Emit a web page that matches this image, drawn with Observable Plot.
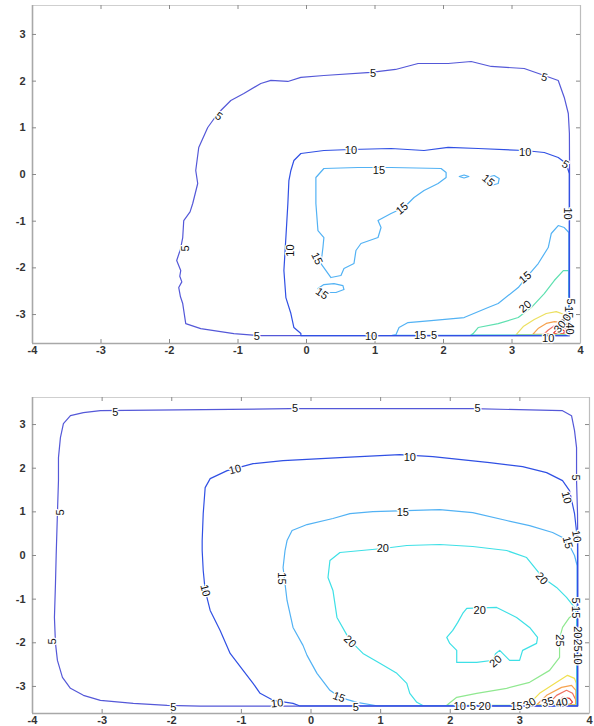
<!DOCTYPE html>
<html><head><meta charset="utf-8">
<script src="https://cdn.jsdelivr.net/npm/d3@7"></script>
<script src="https://cdn.jsdelivr.net/npm/@observablehq/plot@0.6"></script>
<style>
body{margin:0;background:#fff;width:594px;height:726px;overflow:hidden;position:relative;}
#top,#bot{position:absolute;left:0;}
#top{top:0}
#bot{top:360px}
svg{overflow:visible}
</style></head><body>
<div id="top"></div><div id="bot"></div>
<script>
// ---------- axes ----------
const X_DOMAIN = [-4, 4];
const Y_DOMAIN = [-3.62, 3.62];
const X_LABELS = [-4, -3, -2, -1, 0, 1, 2, 3, 4];
const X_TICKS = [-3, -2, -1, 0, 1, 2, 3];
const Y_LABELS = [-3, -2, -1, 0, 1, 2, 3];

// ---------- top panel contours (x, y) ----------
const TOP_5 = [[-1.617,0.086],[-1.573,0.579],[-1.442,1.007],[-1.295,1.307],[-1.105,1.586],[-0.915,1.736],[-0.667,1.950],[-0.520,2.016],[-0.272,1.993],[-0.082,2.079],[0.254,2.121],[0.942,2.186],[1.300,2.250],[1.629,2.378],[2.067,2.378],[2.404,2.421],[2.696,2.314],[3.178,2.271],[3.471,2.121],[3.675,2.014],[3.763,1.650],[3.822,1.307],[3.838,0.879],[3.840,0.150],[3.840,-3.452],[-0.082,-3.452],[-0.711,-3.450],[-1.061,-3.407],[-1.544,-3.300],[-1.763,-3.193],[-1.807,-2.764],[-1.840,-2.620],[-1.865,-2.421],[-1.820,-2.300],[-1.850,-2.180],[-1.836,-2.057],[-1.895,-1.843],[-1.840,-1.600],[-1.807,-1.350],[-1.792,-0.986],[-1.700,-0.800],[-1.661,-0.621],[-1.588,-0.193],[-1.617,0.086]];
const TOP_10 = [[-0.228,0.086],[-0.184,0.300],[-0.082,0.450],[0.254,0.514],[0.649,0.536],[1.234,0.557],[1.716,0.514],[2.067,0.579],[2.506,0.557],[3.178,0.514],[3.471,0.471],[3.675,0.364],[3.792,0.236],[3.836,0.021],[3.836,-3.450],[-0.082,-3.450],[-0.082,-3.407],[-0.184,-3.278],[-0.228,-2.978],[-0.301,-2.636],[-0.330,-2.057],[-0.301,-1.350],[-0.272,-0.621],[-0.257,-0.129],[-0.228,0.086]];
const TOP_15A = [[0.137,-0.064],[0.254,0.129],[0.751,0.150],[1.234,0.150],[1.965,0.129],[2.038,0.043],[2.038,-0.064],[1.921,-0.193],[1.716,-0.343],[1.570,-0.493],[1.424,-0.707],[1.234,-0.836],[1.044,-0.986],[1.088,-1.136],[1.044,-1.350],[0.795,-1.478],[0.722,-1.628],[0.693,-1.907],[0.547,-2.014],[0.503,-2.164],[0.357,-2.207],[0.284,-2.057],[0.211,-1.907],[0.240,-1.564],[0.254,-1.350],[0.167,-1.200],[0.137,-0.621],[0.137,-0.064]];
const TOP_15B = [[0.167,-2.443],[0.254,-2.357],[0.401,-2.336],[0.532,-2.379],[0.547,-2.464],[0.430,-2.528],[0.240,-2.528],[0.167,-2.443]];
const TOP_15C = [[2.23,-0.043],[2.30,-0.010],[2.37,-0.043],[2.30,-0.075],[2.23,-0.043]];
const TOP_15D = [[2.594,-0.171],[2.623,-0.064],[2.740,-0.021],[2.813,-0.086],[2.798,-0.193],[2.696,-0.236],[2.594,-0.171]];
const TOP_15E = [[1.250,-3.445],[1.307,-3.428],[1.351,-3.278],[1.482,-3.171],[1.819,-3.128],[2.301,-3.064],[2.652,-2.850],[2.798,-2.764],[3.091,-2.421],[3.208,-2.207],[3.383,-1.907],[3.529,-1.564],[3.573,-1.264],[3.675,-1.093],[3.763,-1.136],[3.830,-1.243],[3.830,-3.445],[1.250,-3.445]];
const TOP_20 = [[2.400,-3.440],[2.433,-3.407],[2.506,-3.278],[2.798,-3.193],[3.091,-3.064],[3.281,-2.850],[3.471,-2.550],[3.617,-2.271],[3.749,-2.057],[3.826,-2.057],[3.826,-3.440],[2.400,-3.440]];
const TOP_25 = [[3.061,-3.432],[3.164,-3.257],[3.325,-3.107],[3.500,-2.978],[3.646,-2.936],[3.763,-3.000],[3.820,-3.128],[3.820,-3.432],[3.061,-3.432]];
const TOP_30 = [[3.300,-3.428],[3.380,-3.300],[3.500,-3.190],[3.620,-3.150],[3.730,-3.170],[3.800,-3.260],[3.815,-3.350],[3.815,-3.425],[3.300,-3.425]];
const TOP_35 = [[3.460,-3.428],[3.530,-3.330],[3.620,-3.240],[3.700,-3.220],[3.770,-3.280],[3.800,-3.360],[3.810,-3.420],[3.460,-3.420]];
const TOP_40 = [[3.600,-3.410],[3.650,-3.330],[3.720,-3.310],[3.770,-3.360],[3.750,-3.410],[3.600,-3.410]];

// ---------- bottom panel contours ----------
const BOT_5 = [[-3.660,0.000],[-3.642,0.961],[-3.627,1.716],[-3.627,2.243],[-3.599,2.700],[-3.556,3.021],[-3.455,3.204],[-3.269,3.272],[-3.025,3.318],[-0.301,3.364],[2.323,3.364],[3.613,3.318],[3.742,3.204],[3.785,2.860],[3.814,2.471],[3.814,1.716],[3.828,0.961],[3.832,0.000],[3.832,-3.450],[-1.591,-3.450],[-2.065,-3.432],[-2.552,-3.387],[-3.025,-3.318],[-3.269,-3.204],[-3.455,-3.043],[-3.570,-2.792],[-3.642,-2.403],[-3.670,-2.014],[-3.685,-1.419],[-3.670,-0.641],[-3.660,0.000]];
const BOT_10 = [[-1.563,0.114],[-1.563,0.343],[-1.548,0.961],[-1.520,1.556],[-1.448,1.762],[-1.204,1.945],[-0.832,2.105],[-0.401,2.174],[0.416,2.243],[1.276,2.311],[1.749,2.265],[2.566,2.128],[3.039,2.037],[3.384,1.899],[3.613,1.716],[3.713,1.487],[3.785,0.961],[3.828,0.343],[3.828,-3.447],[-0.158,-3.447],[-0.258,-3.387],[-0.545,-3.318],[-0.731,-3.158],[-0.832,-2.929],[-0.975,-2.632],[-1.161,-2.243],[-1.305,-1.716],[-1.448,-1.259],[-1.520,-0.801],[-1.548,-0.343],[-1.563,0.114]];
const BOT_15 = [[-0.373,0.114],[-0.344,0.343],[-0.272,0.572],[-0.057,0.709],[0.315,0.847],[0.559,0.961],[0.889,1.007],[1.849,1.053],[2.323,0.984],[2.810,0.801],[3.140,0.686],[3.470,0.526],[3.613,0.412],[3.713,0.229],[3.785,0.000],[3.822,-0.229],[3.822,-3.442],[0.946,-3.442],[0.659,-3.364],[0.416,-3.249],[0.272,-3.089],[0.086,-2.700],[-0.057,-2.288],[-0.115,-2.059],[-0.258,-1.648],[-0.344,-1.030],[-0.401,-0.275],[-0.373,0.114]];
const BOT_20A = [[1.606,-3.437],[1.520,-3.364],[1.419,-3.158],[1.376,-2.929],[1.233,-2.700],[0.989,-2.471],[0.746,-2.243],[0.559,-1.945],[0.373,-1.419],[0.315,-0.801],[0.244,-0.503],[0.272,-0.114],[0.416,0.069],[1.032,0.160],[1.376,0.229],[1.849,0.252],[2.323,0.206],[2.810,0.114],[3.097,-0.046],[3.326,-0.503],[3.527,-0.732],[3.670,-0.961],[3.785,-1.190],[3.818,-1.419],[3.818,-3.437],[1.606,-3.437]];
const BOT_20B = [[2.179,-1.327],[2.237,-1.213],[2.667,-1.190],[2.953,-1.419],[3.140,-1.648],[3.254,-1.876],[3.240,-2.014],[3.039,-2.174],[2.996,-2.403],[2.853,-2.403],[2.710,-2.174],[2.650,-2.250],[2.620,-2.400],[2.380,-2.449],[2.093,-2.449],[2.093,-2.174],[1.993,-2.014],[1.950,-1.876],[2.036,-1.716],[2.108,-1.533],[2.179,-1.327]];
const BOT_25 = [[1.950,-3.432],[2.093,-3.249],[2.380,-3.158],[2.810,-3.043],[3.140,-2.906],[3.427,-2.632],[3.570,-2.334],[3.570,-1.899],[3.613,-1.648],[3.713,-1.419],[3.815,-1.304],[3.815,-3.432],[1.950,-3.432]];
const BOT_30 = [[3.039,-3.430],[3.140,-3.387],[3.283,-3.158],[3.527,-2.906],[3.685,-2.746],[3.785,-2.815],[3.810,-2.929],[3.810,-3.430],[3.039,-3.430]];
const BOT_35 = [[3.240,-3.425],[3.384,-3.204],[3.599,-3.021],[3.742,-2.975],[3.805,-3.089],[3.805,-3.425],[3.240,-3.425]];
const BOT_40 = [[3.398,-3.420],[3.527,-3.204],[3.670,-3.089],[3.756,-3.158],[3.800,-3.300],[3.800,-3.420],[3.398,-3.420]];
const BOT_45 = [[3.541,-3.410],[3.613,-3.249],[3.713,-3.272],[3.756,-3.360],[3.720,-3.410],[3.541,-3.410]];

// ---------- colours per level ----------
const TOP_COLORS = {c5:"#5458d8", c10:"#3050e4", c15:"#52b2f4", c20:"#5ee0b0", c25:"#ece060", c30:"#f6a24e", c35:"#f07060", c40:"#e03434"};
const BOT_COLORS = {c5:"#5458d8", c10:"#3050e4", c15:"#52b2f4", c20:"#3ee0e6", c25:"#90e890", c30:"#f0e050", c35:"#f6a24e", c40:"#f07060", c45:"#e03434"};

// ---------- contour labels: [text, x, y, rotate] ----------
const TOP_LABELS = [
 ["5",0.971,2.164,0],["5",3.471,2.078,15],["5",-1.281,1.243,35],["5",-1.763,-1.586,-90],["5",-0.725,-3.471,0],["5",3.778,0.214,30],
 ["10",0.649,0.514,0],["10",3.193,0.471,0],["10",-0.228,-1.628,-90],["10",0.942,-3.471,0],["10",3.807,-0.836,90],["10",3.529,-3.514,0],
 ["15",1.658,-3.45,0],["5",1.863,-3.45,0],
 ["15",1.058,0.086,0],["15",2.652,-0.129,40],["15",1.395,-0.729,-40],["15",0.152,-1.800,65],["15",0.225,-2.55,35],["15",3.193,-2.207,-40],
 ["20",3.193,-2.829,-40],
 ["5",3.85,-2.72,90],["15",3.82,-2.95,90],["20",3.78,-3.12,-60],["30",3.70,-3.26,-50],["40",3.84,-3.30,90]
];
const BOT_LABELS = [
 ["5",-2.810,3.272,0],["5",-0.229,3.364,0],["5",2.394,3.364,0],["5",-3.599,0.984,-90],["5",-3.713,-1.968,-90],["5",-1.978,-3.478,0],["5",0.645,-3.478,0],["5",3.799,1.785,90],["5",3.80,-1.03,90],
 ["10",-1.090,1.968,-15],["10",1.419,2.243,0],["10",3.670,1.327,75],["10",3.814,0.435,80],["10",-1.520,-0.801,75],["10",-0.487,-3.387,-5],["10",3.83,-2.36,90],
 ["15",1.319,0.984,0],["15",3.685,0.297,75],["15",-0.43,-0.526,90],["15",0.401,-3.249,20],["15",3.80,-1.30,90],
 ["20",1.032,0.160,0],["20",3.312,-0.526,50],["20",0.559,-1.968,45],["20",2.423,-1.259,0],["20",2.652,-2.426,-40],["20",3.83,-1.76,90],
 ["25",3.570,-1.945,90],["25",3.83,-2.06,90],
 ["10",2.136,-3.46,0],["5",2.323,-3.46,0],["20",2.495,-3.46,0],
 ["15",2.953,-3.46,0],["30",3.14,-3.39,-30],["35",3.40,-3.36,-15],["40",3.60,-3.37,-10]
];

const TOP_CONTOURS = [
 [TOP_40,"c40"],[TOP_35,"c35"],[TOP_30,"c30"],[TOP_25,"c25"],[TOP_20,"c20"],
 [TOP_15A,"c15"],[TOP_15B,"c15"],[TOP_15C,"c15"],[TOP_15D,"c15"],[TOP_15E,"c15"],
 [TOP_5,"c5"],[TOP_10,"c10"]
];
const BOT_CONTOURS = [
 [BOT_45,"c45"],[BOT_40,"c40"],[BOT_35,"c35"],[BOT_30,"c30"],[BOT_25,"c25"],
 [BOT_20A,"c20"],[BOT_20B,"c20"],[BOT_15,"c15"],[BOT_5,"c5"],[BOT_10,"c10"]
];

function panel(contours, colors, labels, o) {
  const W = 594;
  const innerH = o.height - o.mt - o.mb;
  const innerW = W - o.ml - o.mr;
  const font = "'Liberation Sans', Arial, sans-serif";
  return Plot.plot({
    width: W, height: o.height,
    marginTop: o.mt, marginBottom: o.mb, marginLeft: o.ml, marginRight: o.mr,
    x: {domain: X_DOMAIN, axis: null},
    y: {domain: Y_DOMAIN, axis: null},
    style: {fontFamily: font, background: "white", overflow: "visible"},
    marks: [
      Plot.frame({stroke: "#cfcfcf"}),
      Plot.ruleX([X_DOMAIN[0]], {stroke: "#a8a8a8", strokeWidth: 1.6}),
      Plot.ruleY([Y_DOMAIN[0]], {stroke: "#a8a8a8", strokeWidth: 1.6}),
      Plot.ruleX([X_DOMAIN[1]], {stroke: "#bdbdbd", strokeWidth: 1.2}),
      Plot.tickX(X_TICKS, {x: d => d, insetTop: innerH - 4, stroke: "#8a8a8a"}),
      Plot.tickX(X_TICKS, {x: d => d, insetBottom: innerH - 4, stroke: "#8a8a8a"}),
      Plot.tickY(Y_LABELS, {y: d => d, insetLeft: innerW - 4, stroke: "#8a8a8a"}),
      Plot.tickY(Y_LABELS, {y: d => d, insetRight: innerW - 4, stroke: "#8a8a8a"}),
      ...contours.map(([pts, key]) => Plot.line(pts, {x: d => d[0], y: d => d[1], stroke: colors[key], strokeWidth: 1.2, curve: "linear"})),
      Plot.text(labels, {x: d => d[1], y: d => d[2], text: d => d[0], rotate: d => d[3],
        fill: "#111", stroke: "white", strokeWidth: 2.5, fontSize: 11, fontFamily: font}),
      Plot.axisX(X_LABELS, {anchor: "bottom", tickSize: 0, tickPadding: 3, fontSize: 11, fill: "#333",
        tickFormat: d => String(d), fontWeight: "bold"}),
      Plot.axisY(Y_LABELS, {anchor: "left", tickSize: 0, tickPadding: 7, fontSize: 11, fill: "#333",
        tickFormat: d => String(d), fontWeight: "bold"})
    ]
  });
}

document.getElementById("top").append(panel(TOP_CONTOURS, TOP_COLORS, TOP_LABELS, {height: 360, mt: 5, mb: 17, ml: 32, mr: 14}));
document.getElementById("bot").append(panel(BOT_CONTOURS, BOT_COLORS, BOT_LABELS, {height: 366, mt: 37, mb: 13, ml: 32, mr: 5}));
</script>
</body></html>
